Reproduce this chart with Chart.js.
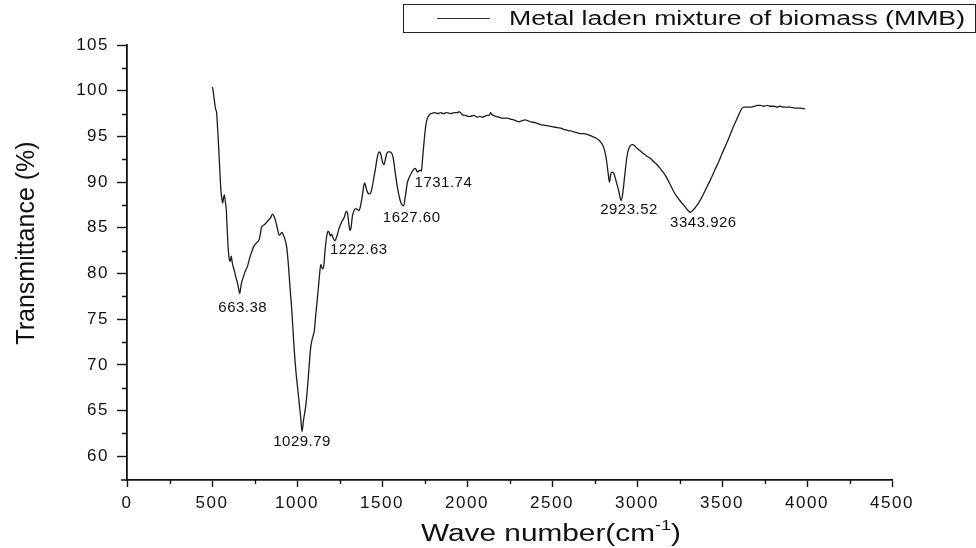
<!DOCTYPE html>
<html>
<head>
<meta charset="utf-8">
<script src="https://cdn.jsdelivr.net/npm/chart.js@4.4.1/dist/chart.umd.min.js"></script>
<style>
    html, body { margin: 0; padding: 0; background: #fff; }
    #chartFtir { display: block; }
</style>
</head>
<body>
<canvas id="chartFtir" width="976" height="548"></canvas>
<script>
// FTIR spectrum
const waveNumber = [
    500, 504, 508, 514, 521, 527, 533, 539, 546, 552, 558, 563, 568, 573, 578, 584, 590, 596, 601, 607,
    613, 619, 625, 633, 640, 648, 656, 663.38, 670, 677, 684, 695, 709, 722, 738, 750, 765, 777, 785, 791,
    805, 817, 830, 845, 856, 866, 875, 885, 895, 903, 911, 920, 930, 940, 950, 960, 970, 983, 995, 1003,
    1013, 1022, 1029.79, 1038, 1052, 1063, 1071, 1080, 1087, 1095, 1101, 1110, 1120, 1130, 1140, 1150, 1158, 1165, 1175, 1182,
    1189, 1196, 1203, 1210, 1222.63, 1235, 1247, 1262, 1277, 1290, 1297, 1306, 1312, 1318, 1326, 1336, 1345, 1355, 1365, 1375,
    1385, 1393, 1398, 1406, 1414, 1425, 1433, 1443, 1453, 1462, 1469, 1476, 1482, 1490, 1496, 1503, 1512, 1520, 1528, 1537,
    1547, 1555, 1561, 1569, 1576, 1585, 1594, 1604, 1614, 1627.6, 1637, 1649, 1660, 1673, 1683, 1692, 1700, 1708, 1716, 1724,
    1731.74, 1738, 1743, 1750, 1757, 1764, 1770, 1780, 1790, 1810, 1830, 1845, 1860, 1880, 1904, 1925, 1945, 1953, 1962, 1972,
    1982, 1992, 2005, 2021, 2040, 2060, 2075, 2090, 2105, 2119, 2130, 2139, 2146, 2154, 2170, 2188, 2210, 2236, 2255, 2275,
    2290, 2305, 2320, 2344, 2360, 2374, 2400, 2432, 2460, 2491, 2520, 2550, 2580, 2609, 2630, 2648, 2670, 2687, 2710, 2736,
    2760, 2775, 2790, 2804, 2815, 2822, 2830, 2838, 2845, 2852, 2862, 2870, 2880, 2893, 2906, 2915, 2926, 2941, 2955, 2971,
    2985, 3000, 3020, 3039, 3060, 3078, 3100, 3118, 3140, 3157, 3180, 3196, 3215, 3235, 3255, 3274, 3295, 3314, 3333, 3350,
    3362, 3380, 3402, 3420, 3441, 3460, 3480, 3500, 3519, 3540, 3559, 3580, 3597, 3612, 3627, 3645, 3666, 3690, 3710, 3725,
    3745, 3765, 3783, 3805, 3825, 3842, 3860, 3880, 3901, 3930, 3960, 3990
];
const transmittance = [
    100.4, 100.3, 99.8, 98.9, 98.0, 97.6, 95.9, 93.9, 91.3, 89.2, 88.2, 87.7, 88.3, 88.6, 87.9, 87.0, 84.6, 82.6, 81.6, 81.3,
    81.9, 81.2, 80.7, 80.2, 79.6, 79.1, 78.4, 77.8, 78.6, 79.2, 79.6, 80.2, 80.8, 81.7, 82.6, 83.1, 83.4, 83.7, 84.4, 85.0,
    85.3, 85.5, 85.8, 86.1, 86.5, 86.2, 85.7, 84.9, 84.2, 84.3, 84.5, 84.2, 83.7, 82.8, 80.8, 78.2, 75.8, 71.8, 69.0, 67.6,
    65.8, 64.2, 62.7, 63.9, 65.6, 67.8, 69.8, 71.8, 72.6, 73.2, 73.6, 75.4, 77.3, 79.3, 81.0, 80.5, 80.9, 82.5, 84.1, 84.6,
    84.5, 84.1, 84.3, 84.0, 83.6, 84.1, 84.9, 85.6, 86.1, 86.8, 86.6, 85.3, 84.7, 85.0, 86.3, 86.9, 87.1, 87.0, 86.9, 87.5,
    88.6, 89.6, 89.9, 89.4, 88.9, 88.7, 88.8, 89.5, 90.6, 91.5, 92.4, 93.0, 93.3, 93.2, 92.8, 92.2, 91.9, 92.5, 93.1, 93.3,
    93.3, 93.2, 93.0, 92.3, 91.3, 90.1, 89.1, 88.2, 87.6, 87.4, 88.4, 89.9, 90.5, 91.0, 91.3, 91.5, 91.4, 91.1, 91.2, 91.3,
    91.2, 92.4, 93.5, 94.9, 96.1, 96.8, 97.1, 97.4, 97.5, 97.6, 97.5, 97.6, 97.5, 97.6, 97.5, 97.6, 97.6, 97.7, 97.6, 97.4,
    97.3, 97.3, 97.2, 97.2, 97.3, 97.1, 97.2, 97.1, 97.2, 97.3, 97.3, 97.6, 97.4, 97.3, 97.2, 97.1, 97.0, 97.0, 96.9, 96.8,
    96.7, 96.6, 96.7, 96.8, 96.7, 96.6, 96.5, 96.3, 96.2, 96.1, 96.0, 95.9, 95.7, 95.6, 95.5, 95.4, 95.3, 95.3, 95.2, 95.0,
    94.8, 94.6, 94.3, 93.8, 93.0, 92.2, 91.0, 90.0, 90.8, 91.1, 91.0, 90.6, 89.9, 89.0, 88.0, 88.6, 90.4, 92.8, 93.8, 94.1,
    94.0, 93.7, 93.4, 93.1, 92.8, 92.6, 92.2, 91.9, 91.4, 91.0, 90.3, 89.7, 89.0, 88.4, 87.9, 87.5, 87.0, 86.7, 87.0, 87.4,
    87.7, 88.3, 89.1, 89.8, 90.6, 91.4, 92.2, 93.1, 93.9, 94.8, 95.7, 96.6, 97.3, 97.9, 98.2, 98.2, 98.2, 98.3, 98.4, 98.4,
    98.3, 98.4, 98.3, 98.3, 98.2, 98.3, 98.2, 98.2, 98.2, 98.1, 98.1, 98.0
];

const xTicks = [0, 500, 1000, 1500, 2000, 2500, 3000, 3500, 4000, 4500];
const yTicks = [60, 65, 70, 75, 80, 85, 90, 95, 100, 105];

const peakLabels = ['663.38', '1029.79', '1222.63', '1627.60', '1731.74', '2923.52', '3343.926'];
const peakAt = [663.38, 1029.79, 1222.63, 1627.6, 1731.74, 2906, 3314];

const seriesName = 'Metal laden mixture of biomass (MMB)';

// offsets of each peak label from its dip, in px (layout only)
const labelOffsets = [[3, 14], [0, 10], [24, 9], [8, 12], [22, 12], [8, 10], [13, 11]];

const plotTop = 45, plotLeft = 127, plotRight = 892, plotBottom = 480;
const fonte = '"Liberation Sans", Arial, sans-serif';

// draws text squeezed/stretched to a given width (the figure is widened)
function textoLargo(ctx, txt, x0, y0, largura) {
    const w = ctx.measureText(txt).width;
    ctx.save();
    ctx.translate(x0, y0);
    ctx.scale(largura / w, 1);
    ctx.fillText(txt, 0, 0);
    ctx.restore();
}

const figura = {
    id: 'figura',
    beforeUpdate(chart) {
        chart.ctx.letterSpacing = '1.5px';
    },
    afterDraw(chart) {
        const ctx = chart.ctx;
        const x = chart.scales.x;
        const y = chart.scales.y;

        ctx.save();
        ctx.strokeStyle = '#111';
        ctx.lineWidth = 1.4;
        ctx.beginPath();
        // minor ticks
        for (let v = 250; v < 4500; v += 500) {
            const px = Math.round(x.getPixelForValue(v)) + 0.5;
            ctx.moveTo(px, plotBottom);
            ctx.lineTo(px, plotBottom + 4);
        }
        for (let v = 62.5; v < 105; v += 5) {
            const py = Math.round(y.getPixelForValue(v)) + 0.5;
            ctx.moveTo(plotLeft, py);
            ctx.lineTo(plotLeft - 5, py);
        }
        ctx.moveTo(plotLeft - 6, plotBottom);
        ctx.lineTo(plotLeft, plotBottom);
        ctx.stroke();

        ctx.fillStyle = '#111';

        // peak labels
        ctx.font = '15px ' + fonte;
        ctx.letterSpacing = '0.5px';
        ctx.textAlign = 'center';
        ctx.textBaseline = 'middle';
        peakLabels.forEach((txt, i) => {
            const k = waveNumber.indexOf(peakAt[i]);
            const px = x.getPixelForValue(waveNumber[k]);
            const py = y.getPixelForValue(transmittance[k]);
            ctx.fillText(txt, px + labelOffsets[i][0], py + labelOffsets[i][1]);
        });

        // x axis title with superscript, widened like the original
        ctx.letterSpacing = '0px';
        ctx.textAlign = 'left';
        ctx.textBaseline = 'alphabetic';
        ctx.font = '23px ' + fonte;
        const partA = 'Wave number(cm';
        const wA = ctx.measureText(partA).width;
        const wC = ctx.measureText(')').width;
        ctx.font = '14px ' + fonte;
        const wB = ctx.measureText('-1').width;
        const k = 260 / (wA + wB + wC);
        ctx.save();
        ctx.translate(551 - 130, 541);
        ctx.scale(k, 1);
        ctx.font = '23px ' + fonte;
        ctx.fillText(partA, 0, 0);
        ctx.fillText(')', wA + wB, 0);
        ctx.font = '14px ' + fonte;
        ctx.fillText('-1', wA, -11);
        ctx.restore();

        // y axis title
        ctx.save();
        ctx.translate(27, 243);
        ctx.rotate(-Math.PI / 2);
        ctx.font = '25px ' + fonte;
        ctx.letterSpacing = '0px';
        ctx.textAlign = 'center';
        ctx.textBaseline = 'middle';
        ctx.fillText('Transmittance (%)', 0, 0);
        ctx.restore();

        // legend box
        ctx.strokeStyle = '#222';
        ctx.lineWidth = 1;
        ctx.strokeRect(403.5, 4.5, 572, 28);
        ctx.strokeStyle = '#333';
        ctx.beginPath();
        ctx.moveTo(437, 18.5);
        ctx.lineTo(490, 18.5);
        ctx.stroke();
        ctx.font = '20px ' + fonte;
        ctx.textAlign = 'left';
        ctx.textBaseline = 'alphabetic';
        textoLargo(ctx, seriesName, 509, 25, 456);

        ctx.restore();
        ctx.letterSpacing = '1.5px';
    }
};

document.addEventListener('DOMContentLoaded', () => {
    const ctxFtir = document.getElementById('chartFtir');

    const pontos = waveNumber.map((w, i) => ({ x: w, y: transmittance[i] }));

    const chartFtir = new Chart(ctxFtir, {
        type: 'scatter',
        data: {
            datasets: [{
                label: seriesName,
                data: pontos,
                showLine: true,
                borderColor: '#1c1c1c',
                borderWidth: 1.3,
                pointRadius: 0,
                cubicInterpolationMode: 'monotone'
            }]
        },
        options: {
            responsive: false,
            animation: false,
            devicePixelRatio: 1,
            layout: {
                padding: { top: plotTop, left: 0, right: 976 - plotRight, bottom: 0 }
            },
            plugins: {
                legend: { display: false },
                tooltip: { enabled: false }
            },
            scales: {
                x: {
                    type: 'linear',
                    min: 0,
                    max: 4500,
                    afterFit: (s) => { s.height = 548 - plotBottom; },
                    afterBuildTicks: (s) => { s.ticks = xTicks.map(v => ({ value: v })); },
                    border: { display: true, color: '#111', width: 1.8 },
                    grid: { drawOnChartArea: false, drawTicks: true, tickLength: 7, tickColor: '#111', tickWidth: 1.4 },
                    ticks: {
                        color: '#111',
                        padding: 6,
                        maxRotation: 0,
                        callback: (v) => String(v),
                        font: { family: fonte, size: 17 }
                    }
                },
                y: {
                    type: 'linear',
                    min: 57.4,
                    max: 105,
                    afterFit: (s) => { s.width = plotLeft; },
                    afterBuildTicks: (s) => { s.ticks = yTicks.map(v => ({ value: v })); },
                    border: { display: true, color: '#111', width: 1.8 },
                    grid: { drawOnChartArea: false, drawTicks: true, tickLength: 10, tickColor: '#111', tickWidth: 1.4 },
                    ticks: {
                        color: '#111',
                        padding: 8,
                        callback: (v) => String(v),
                        font: { family: fonte, size: 17 }
                    }
                }
            }
        },
        plugins: [figura]
    });
});
</script>
</body>
</html>
